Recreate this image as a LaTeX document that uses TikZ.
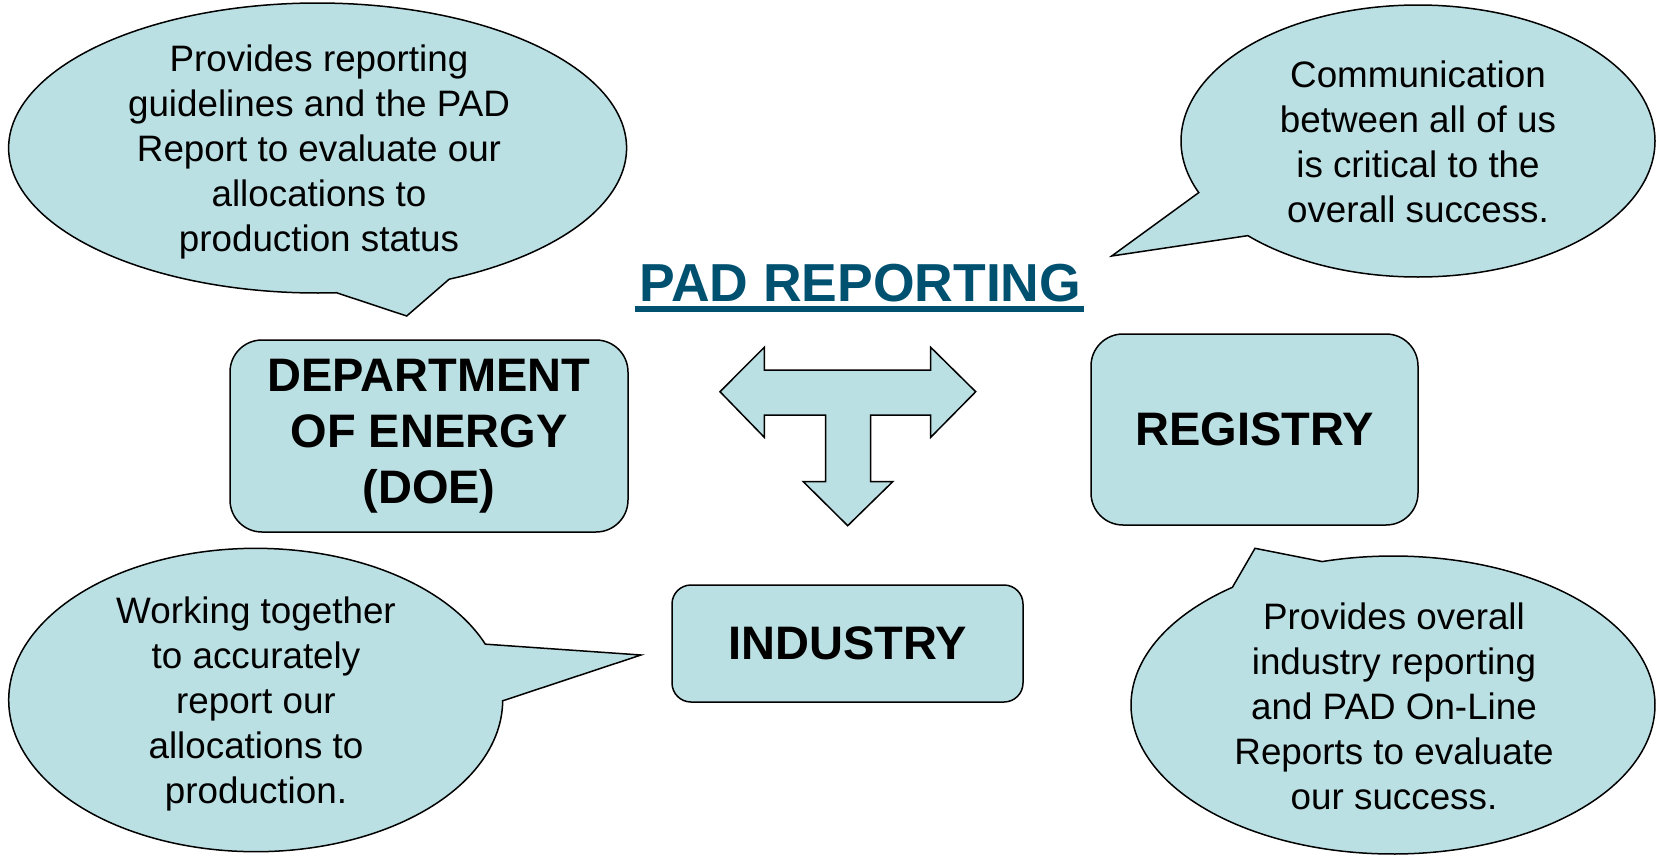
\documentclass[tikz,border=0pt]{standalone}
\usepackage{fontspec}
\setmainfont{Liberation Sans}
\definecolor{fillc}{RGB}{187,224,227}
\definecolor{titlec}{RGB}{0,80,112}
\newcommand\speechbubble[8]{%
  \filldraw[bub] (#7,#8) -- plot[domain=#5:#6,samples=200] ({#1+#3*cos(\x)},{#2+#4*sin(\x)}) -- cycle;}
\begin{document}
\begin{tikzpicture}[x=1pt,y=-1pt,
  bub/.style={fill=fillc, draw=black, line width=1.5pt},
  box/.style={fill=fillc, draw=black, line width=1.5pt, rounded corners=32pt, inner sep=0pt},
  btext/.style={align=center, font=\fontsize{36.8}{45}\selectfont, inner sep=0pt},
  boxtext/.style={align=center, font=\bfseries\fontsize{47}{56}\selectfont}]
\useasboundingbox (0,0) rectangle (1657,855);
% speech bubbles
\speechbubble{317.6}{148}{309}{145}{86.5}{424.8}{406.7}{316}
\speechbubble{1418}{141}{237}{136}{157.7}{495.9}{1111.7}{256}
\speechbubble{255.7}{700}{247}{151.7}{0.3}{338.4}{641}{655}
\speechbubble{1393}{705}{262}{149}{254.3}{592.2}{1255}{548.3}
\node[btext] (b1) at (319,152) {Provides reporting\\guidelines and the PAD\\Report to evaluate our\\allocations to\\production status};
\node[btext] (b2) at (1418,142) {Communication\\between all of us\\is critical to the\\overall success.};
\node[btext] (b3) at (256,704) {Working together\\to accurately\\report our\\allocations to\\production.};
\node[btext] (b4) at (1394,706) {Provides overall\\industry reporting\\and PAD On-Line\\Reports to evaluate\\our success.};
% boxes
\node[box, minimum width=398pt, minimum height=192pt, boxtext] (doe) at (429,436) {DEPARTMENT\\OF ENERGY\\(DOE)};
\node[box, minimum width=327pt, minimum height=191pt, boxtext] (reg) at (1254.5,429.5) {REGISTRY};
\node[box, rounded corners=19pt, minimum width=351pt, minimum height=117pt, boxtext] (ind) at (847.5,643.5) {INDUSTRY};
% T arrow
\filldraw[bub] (720,391.7) -- (764.3,347.3) -- (764.3,370) -- (930.7,370) -- (930.7,347.3)
  -- (975.7,391.7) -- (930.7,437.3) -- (930.7,415) -- (870.7,415) -- (870.7,481.7)
  -- (892.7,481.7) -- (847.7,525.7) -- (803.3,481.7) -- (825.7,481.7) -- (825.7,415)
  -- (764.3,415) -- (764.3,437.3) -- cycle;
% title
\node[font=\bfseries\fontsize{53.5}{60}\selectfont, text=titlec, anchor=base, inner sep=0pt] (title) at (860.3,301) {PAD REPORTING};
\draw[titlec, line width=6pt] ([xshift=-4pt,yshift=-7.5pt]title.base west) -- ([xshift=3pt,yshift=-7.5pt]title.base east);
\end{tikzpicture}
\end{document}
